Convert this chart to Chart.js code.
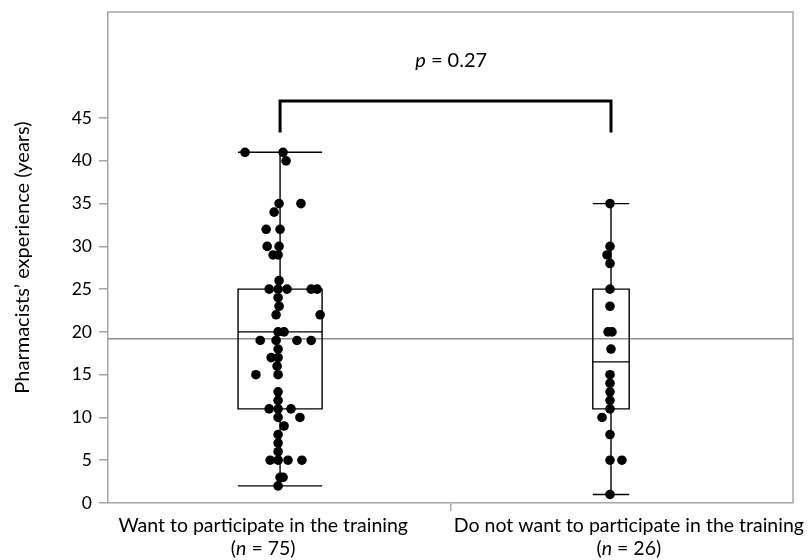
<!DOCTYPE html>
<html><head><meta charset="utf-8">
<script src="https://cdn.jsdelivr.net/npm/chart.js@4.4.1/dist/chart.umd.min.js"></script>
<style>html,body{margin:0;padding:0;background:#fff}canvas{display:block}</style>
</head><body>
<canvas id="c" width="811" height="560"></canvas>
<script>
// ---------- data ----------
const categories = ['Want to participate in the training', 'Do not want to participate in the training'];
const groupCounts = [75, 26];
const groupPositions = [0, 1];

const wantValues = [41,41,40,35,35,34,32,32,30,30,29,29,26,25,25,25,25,25,24,23,22,22,20,20,19,19,19,19,18,17,17,16,15,15,13,12,11,11,11,10,10,9,8,7,6,5,5,5,5,3,3,2];
const wantJitter = [-0.106,0.009,0.018,-0.003,0.063,-0.018,-0.042,0,-0.039,-0.003,-0.021,-0.006,-0.003,-0.033,-0.006,0.021,0.094,0.112,-0.006,-0.003,-0.012,0.121,-0.006,0.012,-0.060,-0.012,0.051,0.094,-0.006,-0.027,-0.006,-0.009,-0.073,-0.006,-0.006,-0.006,-0.033,-0.006,0.033,-0.006,0.060,0.012,-0.006,-0.006,-0.006,-0.030,-0.006,0.024,0.066,0,0.009,-0.006];

const notValues = [35,30,29,28,25,23,20,20,18,15,14,13,12,11,10,8,5,5,1];
const notJitter = [-0.003,-0.003,-0.012,-0.003,-0.003,-0.003,-0.009,0.003,0,-0.003,-0.003,-0.003,-0.003,-0.003,-0.027,-0.003,-0.003,0.033,-0.003];

// box stats: [lower whisker, Q1, median, Q3, upper whisker]
const wantBox = [2, 11, 20, 25, 41];
const notBox = [1, 11, 16.5, 25, 35];
const overallMean = 19.2;
const pValueText = '0.27';
const yTicks = [0,5,10,15,20,25,30,35,40,45];

// ---------- layout / style ----------
const boxHalfWidths = [0.127, 0.055];
const labelCenters = [-0.051, 1.054];
const midTick = 0.517;
const bracketTop = 47, bracketLeg = 43.3, pTextY = 51.8;
const FONT = 'Lato, "Open Sans", sans-serif';
const frameColor = '#a6a6a6';

const overlay = {
  id: 'overlay',
  beforeDatasetsDraw(chart) {
    const {ctx, chartArea: a, scales: {x, y}} = chart;
    ctx.save();
    ctx.strokeStyle = frameColor; ctx.lineWidth = 1.5;
    ctx.beginPath();
    ctx.moveTo(a.left, a.top); ctx.lineTo(a.right, a.top); ctx.lineTo(a.right, a.bottom);
    ctx.stroke();
    // overall mean line
    const my = y.getPixelForValue(overallMean);
    ctx.strokeStyle = '#8c8c8c'; ctx.lineWidth = 1.5;
    ctx.beginPath(); ctx.moveTo(a.left, my); ctx.lineTo(a.right, my); ctx.stroke();
    // boxes
    ctx.strokeStyle = '#000'; ctx.lineWidth = 1.4;
    [wantBox, notBox].forEach((b, i) => {
      const c = x.getPixelForValue(groupPositions[i]);
      const l = x.getPixelForValue(groupPositions[i] - boxHalfWidths[i]);
      const r = x.getPixelForValue(groupPositions[i] + boxHalfWidths[i]);
      const [lo, q1, med, q3, hi] = b.map(v => y.getPixelForValue(v));
      ctx.beginPath();
      ctx.moveTo(c, lo); ctx.lineTo(c, q1);
      ctx.moveTo(c, q3); ctx.lineTo(c, hi);
      ctx.moveTo(l, lo); ctx.lineTo(r, lo);
      ctx.moveTo(l, hi); ctx.lineTo(r, hi);
      ctx.moveTo(l, med); ctx.lineTo(r, med);
      ctx.rect(l, q3, r - l, q1 - q3);
      ctx.stroke();
    });
    // bracket
    const bx0 = x.getPixelForValue(groupPositions[0]), bx1 = x.getPixelForValue(groupPositions[1]);
    const bt = y.getPixelForValue(bracketTop), bl = y.getPixelForValue(bracketLeg);
    ctx.lineWidth = 3; ctx.lineJoin = 'miter';
    ctx.beginPath(); ctx.moveTo(bx0, bl); ctx.lineTo(bx0, bt); ctx.lineTo(bx1, bt); ctx.lineTo(bx1, bl); ctx.stroke();
    ctx.restore();
  },
  afterDraw(chart) {
    const {ctx, scales: {x, y}} = chart;
    const drawMixed = (parts, cx, by, size) => {
      ctx.textBaseline = 'alphabetic'; ctx.textAlign = 'left'; ctx.fillStyle = '#000';
      let w = 0;
      parts.forEach(p => { ctx.font = (p.i ? 'italic ' : '') + size + 'px ' + FONT; w += ctx.measureText(p.t).width; });
      let xx = cx - w / 2;
      parts.forEach(p => { ctx.font = (p.i ? 'italic ' : '') + size + 'px ' + FONT; ctx.fillText(p.t, xx, by); xx += ctx.measureText(p.t).width; });
    };
    ctx.save();
    categories.forEach((cat, i) => {
      const cx = x.getPixelForValue(labelCenters[i]);
      drawMixed([{t: cat}], cx, 532, 19.5);
      drawMixed([{t: '('}, {t: 'n', i: true}, {t: ' = ' + groupCounts[i] + ')'}], cx, 555, 19.5);
    });
    drawMixed([{t: 'p', i: true}, {t: ' = ' + pValueText}], x.getPixelForValue(midTick), y.getPixelForValue(pTextY) + 7, 20);
    ctx.restore();
  }
};

const mk = (vals, jit, g) => vals.map((v, k) => ({x: groupPositions[g] + jit[k], y: v}));

new Chart(document.getElementById('c'), {
  type: 'scatter',
  data: {
    datasets: [
      {data: mk(wantValues, wantJitter, 0), backgroundColor: '#000', borderWidth: 0, pointRadius: 4.8},
      {data: mk(notValues, notJitter, 1), backgroundColor: '#000', borderWidth: 0, pointRadius: 4.8}
    ]
  },
  options: {
    responsive: false, animation: false, devicePixelRatio: 1,
    layout: {padding: {top: 12, right: 18, left: 0, bottom: 0}},
    plugins: {legend: {display: false}, tooltip: {enabled: false}},
    scales: {
      x: {
        type: 'linear', min: -0.52, max: 1.55,
        afterBuildTicks: s => { s.ticks = [{value: midTick}]; },
        afterFit: s => { s.height = 57; s.paddingLeft = 0; s.paddingRight = 0; },
        grid: {drawOnChartArea: false, drawTicks: true, tickLength: 8, color: frameColor, lineWidth: 1.5},
        border: {display: true, color: frameColor, width: 1.5},
        ticks: {callback: () => '', padding: 0}
      },
      y: {
        min: 0, max: 57.4,
        afterBuildTicks: s => { s.ticks = yTicks.map(v => ({value: v})); },
        afterFit: s => { s.width = 108; s.paddingTop = 0; s.paddingBottom = 0; },
        grid: {drawOnChartArea: false, drawTicks: true, tickLength: 9, color: frameColor, lineWidth: 1.5},
        border: {display: true, color: frameColor, width: 1.5},
        ticks: {padding: 7, color: '#000', font: {family: FONT, size: 17.5}},
        title: {display: true, text: 'Pharmacists’ experience (years)', color: '#000', font: {family: FONT, size: 20}, padding: {top: 10.5, bottom: 0}}
      }
    }
  },
  plugins: [overlay]
});
</script>
</body></html>
